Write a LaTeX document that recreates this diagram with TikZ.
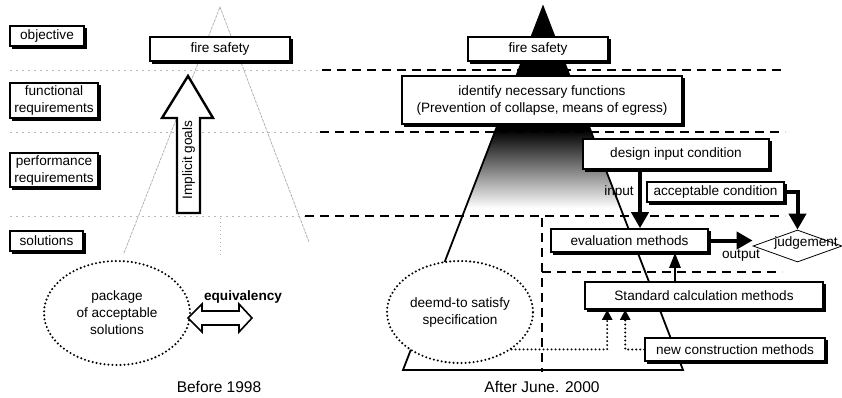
\documentclass[tikz,border=0pt]{standalone}
\usepackage{fontspec}
\setmainfont{Liberation Sans}
\usetikzlibrary{shapes.geometric,arrows.meta,calc}
\newcommand{\msz}{\fontsize{13.6}{17}\selectfont}
\newcommand{\csz}{\fontsize{15.5}{18}\selectfont}
\begin{document}
\begin{tikzpicture}[x=1pt,y=-1pt,
  box/.style={draw, fill=white, line width=1.6pt, inner sep=0pt, align=center, font=\msz},
  dotell/.style={ellipse, draw, fill=white, line width=2.3pt, dash pattern=on 0pt off 4pt, line cap=round, inner sep=0pt, align=center, font=\msz},
  faint/.style={gray!55, line width=0.7pt, dash pattern=on 2pt off 4pt},
  heavy/.style={black, line width=1.8pt, dash pattern=on 9pt off 6pt},
  pyr/.style={gray!65, line width=0.7pt, dash pattern=on 3pt off 1pt},
  bigarrow/.style={line width=4pt, -{Triangle[length=16pt,width=17pt]}},
  medarrow/.style={line width=2.6pt, -{Triangle[length=15pt,width=11pt]}},
  dotarrow/.style={line width=2.2pt, dash pattern=on 0pt off 4pt, line cap=round, -{Triangle[length=10pt,width=10pt]}},
  shadowfill/.style={fill=black},
  txt/.style={font=\msz, inner sep=0pt}
]
\useasboundingbox (0,0) rectangle (842,397);
\fill[white] (0,0) rectangle (842,397);

% left pyramid (faint)
\draw[pyr] (124,253) -- (220,7) -- (309,242);
\draw[gray!60, line width=0.6pt, dash pattern=on 1pt off 3pt] (220,218) -- (220,256);

% right pyramid fill
\begin{scope}
  \clip (543,7) -- (403,370) -- (683,370) -- cycle;
  \fill[black] (380,0) rectangle (700,131);
  \shade[top color=black, bottom color=white] (380,130) rectangle (700,208);
\end{scope}
\draw[line width=1.8pt, line join=miter] (543,7) -- (403,370) -- (683,370) -- cycle;

% dashed level lines
\draw[faint] (10,70) -- (322,70);
\draw[heavy] (322,70) -- (785,70);
\draw[faint] (10,132) -- (320,132);
\draw[heavy] (320,132) -- (785,132);
\draw[faint] (10,216) -- (305,216);
\draw[heavy] (305,216) -- (785,216);
\draw[heavy] (542,218) -- (542,372);
\draw[heavy] (542,272) -- (782,272);

% level labels
\node[box, minimum width=74pt, minimum height=20pt] (obj) at (47,36) {objective};
\node[box, minimum width=88pt, minimum height=35pt] (func) at (54,100.5) {functional\\requirements};
\node[box, minimum width=88pt, minimum height=34pt] (perf) at (54,170) {performance\\requirements};
\node[box, minimum width=73pt, minimum height=20pt] (sol) at (46.5,241) {solutions};

% before 1998
\node[box, minimum width=140pt, minimum height=24pt] (fsL) at (220,49) {fire safety};
\draw[line width=2.4pt, fill=white, line join=miter]
  (177,213) -- (177,118) -- (162,118) -- (188,76) -- (213,118) -- (200,118) -- (200,213) -- cycle;
\node[txt, rotate=90] (impl) at (188.5,160) {Implicit goals};
\node[dotell, minimum width=146pt, minimum height=104pt] (pkg) at (117,313) {package\\of acceptable\\solutions};
\draw[line width=1.6pt, fill=white, line join=miter]
  (188,318) -- (202,304) -- (202,311) -- (239,311) -- (239,304) -- (252,318)
  -- (239,332) -- (239,325) -- (202,325) -- (202,332) -- cycle;
\node[txt, font=\msz\bfseries] (equiv) at (243,297) {equivalency};
\node[txt, font=\csz] (before) at (219,387) {Before 1998};

% after June 2000
\node[box, minimum width=140pt, minimum height=24pt] (fsR) at (538,49) {fire safety};
\node[box, minimum width=280pt, minimum height=48pt] (ident) at (542,100) {identify necessary functions\\(Prevention of collapse, means of egress)};
\node[box, minimum width=186pt, minimum height=30pt] (design) at (676,154) {design input condition};
\node[box, minimum width=137pt, minimum height=20pt] (accept) at (715.5,192) {acceptable condition};
\node[box, minimum width=157pt, minimum height=23pt] (eval) at (629.5,240.5) {evaluation methods};
\node[box, minimum width=238pt, minimum height=27pt] (stdcalc) at (704,295.5) {Standard calculation methods};
\node[box, minimum width=180pt, minimum height=23pt] (newcon) at (735,349.5) {new construction methods};
\node[diamond, draw, line width=0.8pt, fill=white, minimum width=89pt, minimum height=32pt, inner sep=0pt] (judge) at (797.5,246) {};
\node[txt] (judgetxt) at (806,243) {judgement};
\node[dotell, minimum width=146pt, minimum height=102pt] (deemd) at (460,312) {deemd-to satisfy\\specification};
\node[txt] (inputlbl) at (619,192) {input};
\node[txt] (outputlbl) at (741,256) {output};
\node[txt, font=\csz] (after) at (542,387) {After June. 2000};

% box shadows (right and bottom)
\foreach \n in {obj,func,perf,sol,fsL,fsR,ident,design,accept,eval,stdcalc,newcon}{
  \fill[shadowfill] ($(\n.north east)+(0,2.6)$) rectangle ($(\n.south east)+(2.6,2.6)$);
  \fill[shadowfill] ($(\n.south west)+(2.6,0)$) rectangle ($(\n.south east)+(2.6,2.6)$);
}

% connectors
\draw[bigarrow] ([xshift=10.5pt]eval.north |- design.south) -- ([xshift=10.5pt]eval.north);
\draw[bigarrow] (accept.east) -| (judge.north);
\draw[bigarrow] (eval.east) -- (eval.east -| judge.west);
\draw[medarrow] ([xshift=-29pt]stdcalc.north) -- ([xshift=-29pt]stdcalc.north |- eval.south);
\draw[dotarrow] (deemd.-36) -| ([xshift=23pt]stdcalc.south west);
\draw[dotarrow] (newcon.west) -| ([xshift=41pt]stdcalc.south west);
\end{tikzpicture}
\end{document}
